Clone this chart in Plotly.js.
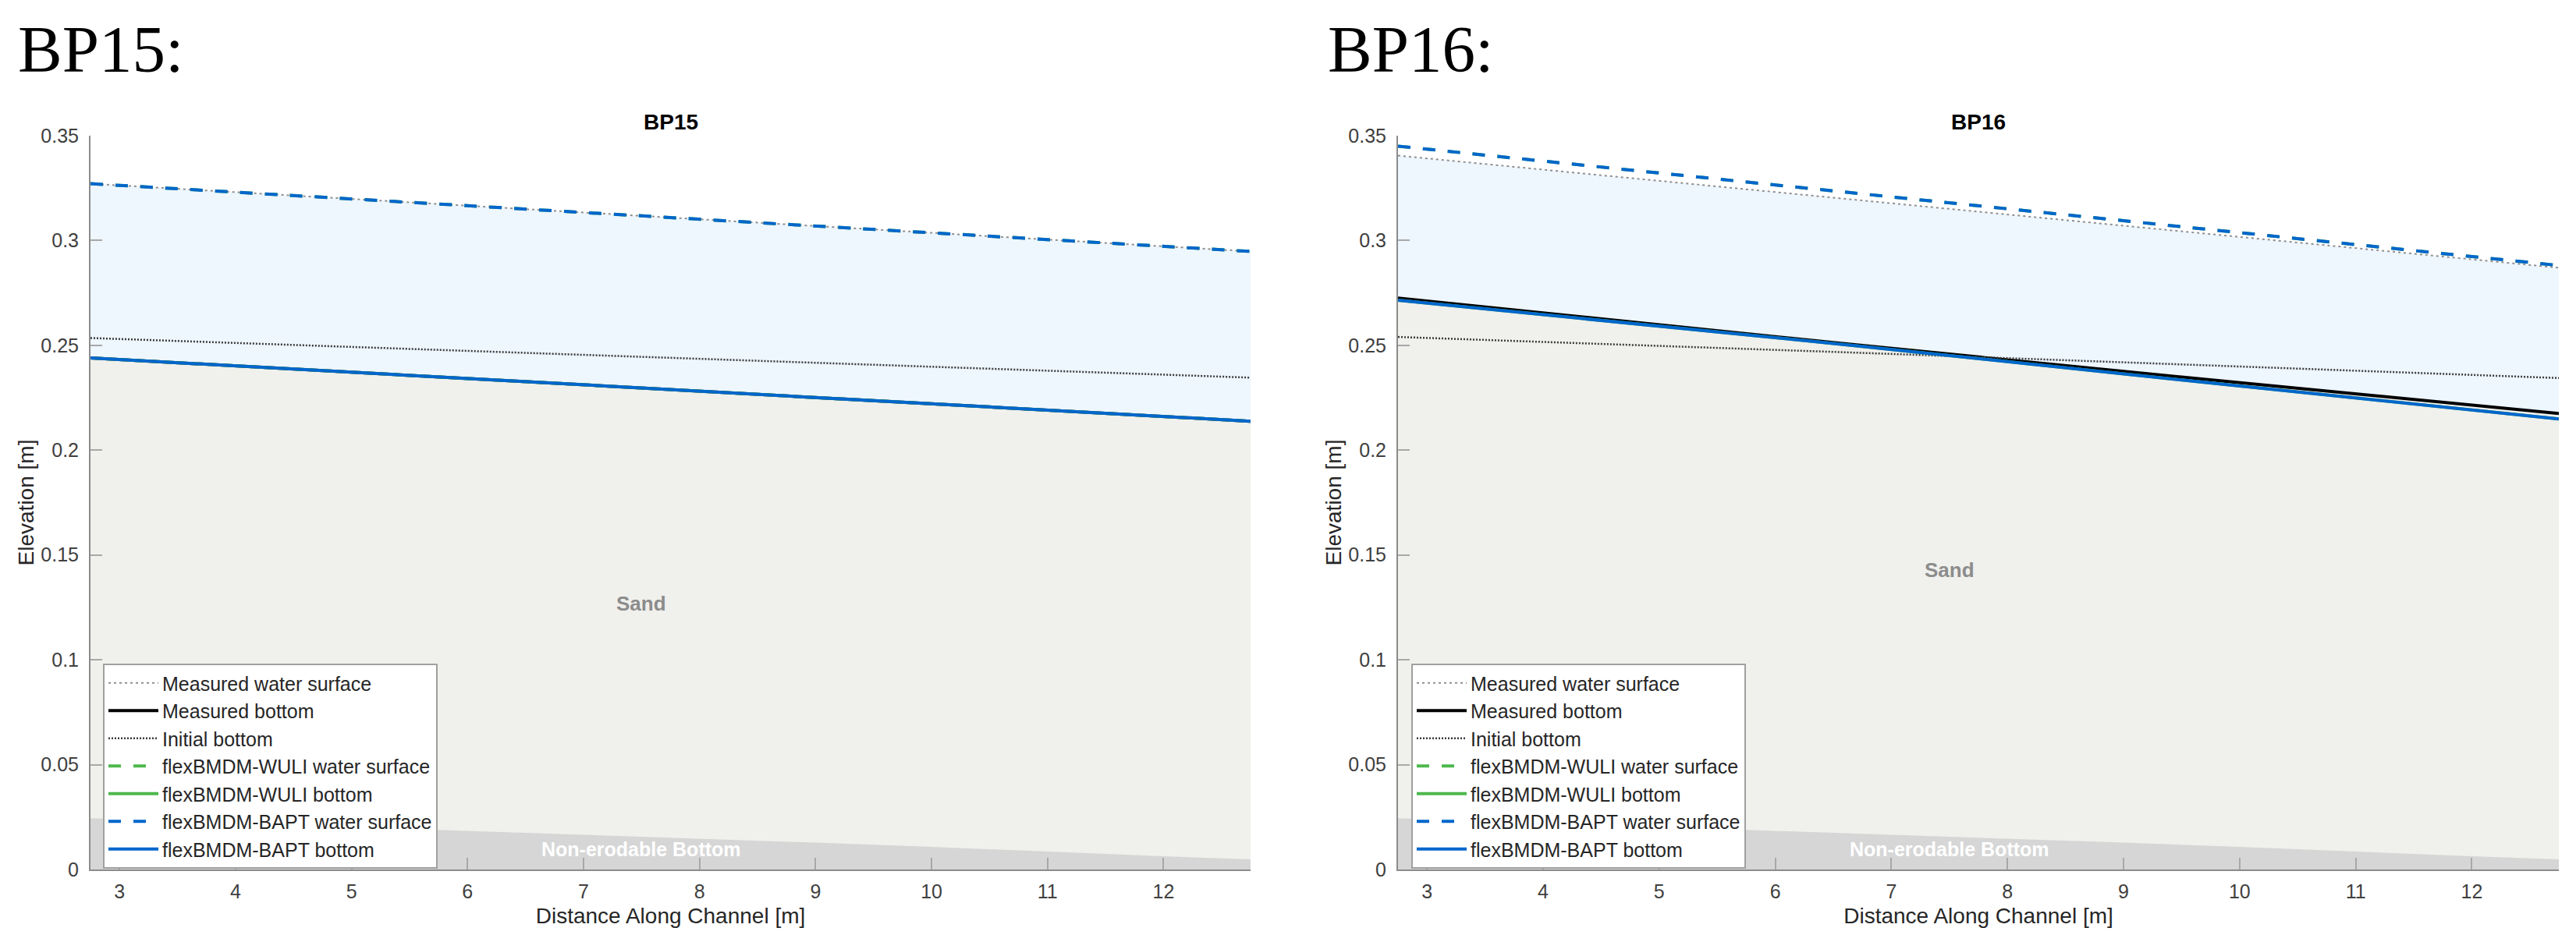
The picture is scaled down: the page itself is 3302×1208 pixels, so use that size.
<!DOCTYPE html>
<html>
<head>
<meta charset="utf-8">
<script src="https://cdn.plot.ly/plotly-3.0.1.min.js"></script>
<style>
  html, body { margin: 0; padding: 0; background: #ffffff; }
  #chart { width: 3302px; height: 1208px; }
</style>
</head>
<body>
<div id="chart"></div>
<script>
// ---------------- data ----------------
const xTicks = [3, 4, 5, 6, 7, 8, 9, 10, 11, 12];
const xTickText = ["3", "4", "5", "6", "7", "8", "9", "10", "11", "12"];
const yTicks = [0, 0.05, 0.1, 0.15, 0.2, 0.25, 0.3, 0.35];
const yTickText = ["0", "0.05", "0.1", "0.15", "0.2", "0.25", "0.3", "0.35"];

const seriesNames = ["Measured water surface", "Measured bottom", "Initial bottom",
  "flexBMDM-WULI water surface", "flexBMDM-WULI bottom",
  "flexBMDM-BAPT water surface", "flexBMDM-BAPT bottom"];

// BP15
const bp15_x = [2.75, 7.75, 12.75];
const bp15_measuredWS = [0.3271, 0.3110, 0.2948];
const bp15_measuredBed = [0.2440, 0.2289, 0.2138];
const bp15_initialBed = [0.2535, 0.2441, 0.2346];
const bp15_wuliWS = [0.3271, 0.3110, 0.2948];
const bp15_wuliBed = [0.2440, 0.2289, 0.2138];
const bp15_baptWS = [0.3271, 0.3110, 0.2948];
const bp15_baptBed = [0.2440, 0.2289, 0.2138];

// BP16
const bp16_x = [2.75, 6.7, 9.5, 12.75];
const bp16_measuredWS = [0.3405, 0.3193, 0.3043, 0.2870];
const bp16_measuredBed = [0.2725, 0.2502, 0.2349, 0.2175];
const bp16_initialBed = [0.2540, 0.2465, 0.2409, 0.2344];
const bp16_wuliWS = [0.3450, 0.3225, 0.3067, 0.2881];
const bp16_wuliBed = [0.2715, 0.2498, 0.2335, 0.2149];
const bp16_baptWS = [0.3450, 0.3225, 0.3067, 0.2881];
const bp16_baptBed = [0.2715, 0.2498, 0.2335, 0.2149];

// Non-erodable bottom (same flume for both runs)
const nonErod_x = [2.75, 4, 5, 6, 7, 8, 9, 10, 11, 12, 12.75];
const nonErod_y = [0.0245, 0.0222, 0.0202, 0.0184, 0.0165, 0.0147, 0.0128, 0.0108, 0.0085, 0.0063, 0.0048];

// label positions (data units)
const sandLabelX = 7.5;
const bp15_sandLabelY = 0.127;
const bp16_sandLabelY = 0.1428;
const nonErodLabelY = 0.0097;

// ---------------- styles ----------------
const FONT = "Liberation Sans, Arial, Helvetica, sans-serif";
const SERIF = "Liberation Serif, Times New Roman, serif";
const C_WATER = "#eef6fe";
const C_SAND = "#f0f0ec";
const C_ROCK = "#d6d6d6";
const C_BLUE = "#0066cc";
const C_GREEN = "#4db84d";

const lineStyles = [
  {color: "#8f8f8f", width: 2, dash: "3px,4px"},
  {color: "#000000", width: 4, dash: "solid"},
  {color: "#3a3a3a", width: 2.5, dash: "2px,2px"},
  {color: C_GREEN, width: 4, dash: "16px,16px"},
  {color: C_GREEN, width: 4, dash: "solid"},
  {color: C_BLUE, width: 4, dash: "16px,16px"},
  {color: C_BLUE, width: 4, dash: "solid"}
];

function panelTraces(x, series, xa, ya, legendId) {
  const tr = [];
  // water, sand, non-erodable fills
  tr.push({x: x, y: series[0], xaxis: xa, yaxis: ya, type: "scatter", mode: "lines",
    line: {width: 0}, fill: "tozeroy", fillcolor: C_WATER, showlegend: false, hoverinfo: "skip"});
  tr.push({x: x, y: series[1], xaxis: xa, yaxis: ya, type: "scatter", mode: "lines",
    line: {width: 0}, fill: "tozeroy", fillcolor: C_SAND, showlegend: false, hoverinfo: "skip"});
  tr.push({x: nonErod_x, y: nonErod_y, xaxis: xa, yaxis: ya, type: "scatter", mode: "lines",
    line: {width: 0}, fill: "tozeroy", fillcolor: C_ROCK, showlegend: false, hoverinfo: "skip"});
  for (let i = 0; i < series.length; i++) {
    tr.push({x: x, y: series[i], xaxis: xa, yaxis: ya, type: "scatter", mode: "lines",
      name: seriesNames[i], line: lineStyles[i], legend: legendId});
  }
  return tr;
}

const traces = [].concat(
  panelTraces(bp15_x, [bp15_measuredWS, bp15_measuredBed, bp15_initialBed, bp15_wuliWS, bp15_wuliBed, bp15_baptWS, bp15_baptBed], "x", "y", "legend"),
  panelTraces(bp16_x, [bp16_measuredWS, bp16_measuredBed, bp16_initialBed, bp16_wuliWS, bp16_wuliBed, bp16_baptWS, bp16_baptBed], "x2", "y2", "legend2")
);

const W = 3302, H = 1208;
const yDom = [1 - 1115 / H, 1 - 174 / H];

function xAxis(dom, anchor) {
  return {
    domain: dom, anchor: anchor, range: [2.75, 12.75],
    tickmode: "array", tickvals: xTicks, ticktext: xTickText,
    ticks: "inside", ticklen: 15, tickwidth: 2, tickcolor: "#a8a8a8",
    showline: true, linecolor: "#8c8c8c", linewidth: 2, mirror: false,
    showgrid: false, zeroline: false,
    tickfont: {family: FONT, size: 25, color: "#404040"},
    ticklabelstandoff: 5,
    title: {text: "Distance Along Channel [m]", font: {family: FONT, size: 28, color: "#262626"}, standoff: 8}
  };
}
function yAxis(anchor) {
  return {
    domain: yDom, anchor: anchor, range: [0, 0.35],
    tickmode: "array", tickvals: yTicks, ticktext: yTickText,
    ticks: "inside", ticklen: 15, tickwidth: 2, tickcolor: "#a8a8a8",
    showline: true, linecolor: "#8c8c8c", linewidth: 2, mirror: false,
    showgrid: false, zeroline: false,
    tickfont: {family: FONT, size: 25, color: "#404040"},
    ticklabelstandoff: 8,
    title: {text: "Elevation [m]", font: {family: FONT, size: 28, color: "#262626"}, standoff: 1}
  };
}
function legendObj(xpos) {
  return {
    x: xpos, y: 1 - 851 / H, xanchor: "left", yanchor: "top",
    xref: "paper", yref: "paper",
    bgcolor: "#ffffff", bordercolor: "#a0a0a0", borderwidth: 2,
    font: {family: FONT, size: 25, color: "#262626"},
    itemwidth: 64, tracegroupgap: 0, traceorder: "normal"
  };
}

const layout = {
  width: W, height: H,
  margin: {l: 0, r: 0, t: 0, b: 0},
  paper_bgcolor: "#ffffff", plot_bgcolor: "rgba(0,0,0,0)",
  font: {family: FONT},
  showlegend: true,
  xaxis: xAxis([116 / W, 1603 / W], "y"),
  yaxis: yAxis("x"),
  xaxis2: xAxis([1792 / W, 3280 / W], "y2"),
  yaxis2: yAxis("x2"),
  legend: legendObj(132 / W),
  legend2: legendObj(1809 / W),
  annotations: [
    {text: "BP15:", xref: "paper", yref: "paper", x: 21 / W, y: 1 - 63 / H, xanchor: "left", yanchor: "middle",
      showarrow: false, font: {family: SERIF, size: 85, color: "#000000"}},
    {text: "BP16:", xref: "paper", yref: "paper", x: 1700 / W, y: 1 - 63 / H, xanchor: "left", yanchor: "middle",
      showarrow: false, font: {family: SERIF, size: 85, color: "#000000"}},
    {text: "<b>BP15</b>", xref: "x domain", yref: "paper", x: 0.5, y: 1 - 157 / H, xanchor: "center", yanchor: "middle",
      showarrow: false, font: {family: FONT, size: 28, color: "#000000"}},
    {text: "<b>BP16</b>", xref: "x2 domain", yref: "paper", x: 0.5, y: 1 - 157 / H, xanchor: "center", yanchor: "middle",
      showarrow: false, font: {family: FONT, size: 28, color: "#000000"}},
    {text: "<b>Sand</b>", xref: "x", yref: "y", x: sandLabelX, y: bp15_sandLabelY, showarrow: false,
      font: {family: FONT, size: 26, color: "#8c8c8c"}},
    {text: "<b>Sand</b>", xref: "x2", yref: "y2", x: sandLabelX, y: bp16_sandLabelY, showarrow: false,
      font: {family: FONT, size: 26, color: "#8c8c8c"}},
    {text: "<b>Non-erodable Bottom</b>", xref: "x", yref: "y", x: sandLabelX, y: nonErodLabelY, showarrow: false,
      font: {family: FONT, size: 25, color: "#ffffff"}},
    {text: "<b>Non-erodable Bottom</b>", xref: "x2", yref: "y2", x: sandLabelX, y: nonErodLabelY, showarrow: false,
      font: {family: FONT, size: 25, color: "#ffffff"}}
  ]
};

Plotly.newPlot("chart", traces, layout, {staticPlot: true, displayModeBar: false});
</script>
</body>
</html>
